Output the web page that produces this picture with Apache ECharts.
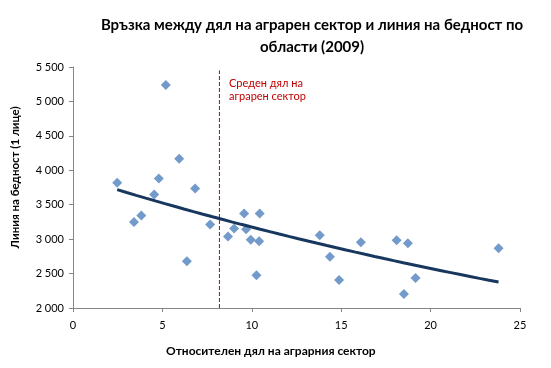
<!DOCTYPE html>
<html><head><meta charset="utf-8">
<script src="https://cdn.jsdelivr.net/npm/echarts@6/dist/echarts.min.js"></script>
<style>html,body{margin:0;padding:0;background:#fff}#c{width:551px;height:368px}</style>
</head><body><div id="c"></div>
<script>
const titleText = 'Връзка между дял на аграрен сектор и линия на бедност по\nобласти (2009)';
const xAxisName = 'Относителен дял на аграрния сектор';
const yAxisName = 'Линия на бедност (1 лице)';
const avgLabel = 'Среден дял на\nаграрен сектор';
const agriShare = [2.47,3.41,3.82,4.54,4.80,5.19,5.94,6.37,6.83,7.67,8.67,9.01,9.57,9.68,9.94,10.41,10.44,10.26,13.80,14.37,14.88,16.10,18.10,18.73,18.51,19.16,23.80];
const povertyLine = [3820,3250,3345,3647,3879,5237,4168,2679,3734,3214,3040,3156,3373,3142,2991,2968,3373,2477,3055,2746,2405,2954,2983,2939,2202,2434,2867];
const avgShare = 8.19;
const avgLineY = [2000, 5450];
const xTicks = {min:0, max:25, interval:5};
const yTicks = {min:2000, max:5500, interval:500};

const points = agriShare.map((x,i)=>[x, povertyLine[i]]);
// exponential trendline (least squares on ln y), as in the spreadsheet
const n = points.length;
let sx=0, sy=0, sxx=0, sxy=0;
points.forEach(([x,y])=>{const ly=Math.log(y); sx+=x; sy+=ly; sxx+=x*x; sxy+=x*ly;});
const b = (n*sxy - sx*sy)/(n*sxx - sx*sx);
const lnA = (sy - b*sx)/n;
const xMin = Math.min(...agriShare), xMax = Math.max(...agriShare);
const trend = [];
for (let k=0;k<=40;k++){ const x = xMin + (xMax-xMin)*k/40; trend.push([x, Math.exp(lnA + b*x)]); }

const font = 'Lato, Open Sans, sans-serif';
const chart = echarts.init(document.getElementById('c'));
chart.setOption({
  animation:false,
  textStyle:{fontFamily:font},
  title:{text:titleText, left:307, textAlign:'center', top:9,
    textStyle:{fontSize:15, fontWeight:'bold', color:'#000', lineHeight:22, fontFamily:font}},
  grid:{left:73, right:31, top:67, bottom:60},
  xAxis:{type:'value', min:xTicks.min, max:xTicks.max, interval:xTicks.interval,
    splitLine:{show:false},
    axisLine:{show:true, onZero:false, lineStyle:{color:'#868686'}},
    axisTick:{show:true, length:4, lineStyle:{color:'#868686'}},
    axisLabel:{color:'#000', fontSize:11, margin:12}},
  yAxis:{type:'value', min:yTicks.min, max:yTicks.max, interval:yTicks.interval,
    name:yAxisName, nameLocation:'middle', nameGap:52,
    nameTextStyle:{fontSize:11.5, fontWeight:'bold', color:'#000', padding:[0,0,0,20]},
    splitLine:{show:false},
    axisLine:{show:true, lineStyle:{color:'#868686'}},
    axisTick:{show:true, length:4, lineStyle:{color:'#868686'}},
    axisLabel:{color:'#000', fontSize:11, margin:9,
      formatter:v=>String(v).replace(/\B(?=(\d{3})+(?!\d))/g,' ')}},
  graphic:[
    {type:'text', left:166, top:345, style:{text:xAxisName, font:'bold 12px '+font, fill:'#000'}},
    {type:'text', left:229, top:77, style:{text:avgLabel, font:'11px '+font, fill:'#c00000', lineHeight:13}}
  ],
  series:[
    {type:'line', data:avgLineY.map(y=>[avgShare,y]), showSymbol:false, silent:true,
      lineStyle:{color:'#c00000', type:[4,2], width:1}},
    {type:'scatter', data:points, symbol:'diamond', symbolSize:10,
      itemStyle:{color:'#4f81bd'}},
    {type:'line', data:trend, showSymbol:false, smooth:false,
      lineStyle:{color:'#17375e', width:3}}
  ]
});
</script></body></html>
